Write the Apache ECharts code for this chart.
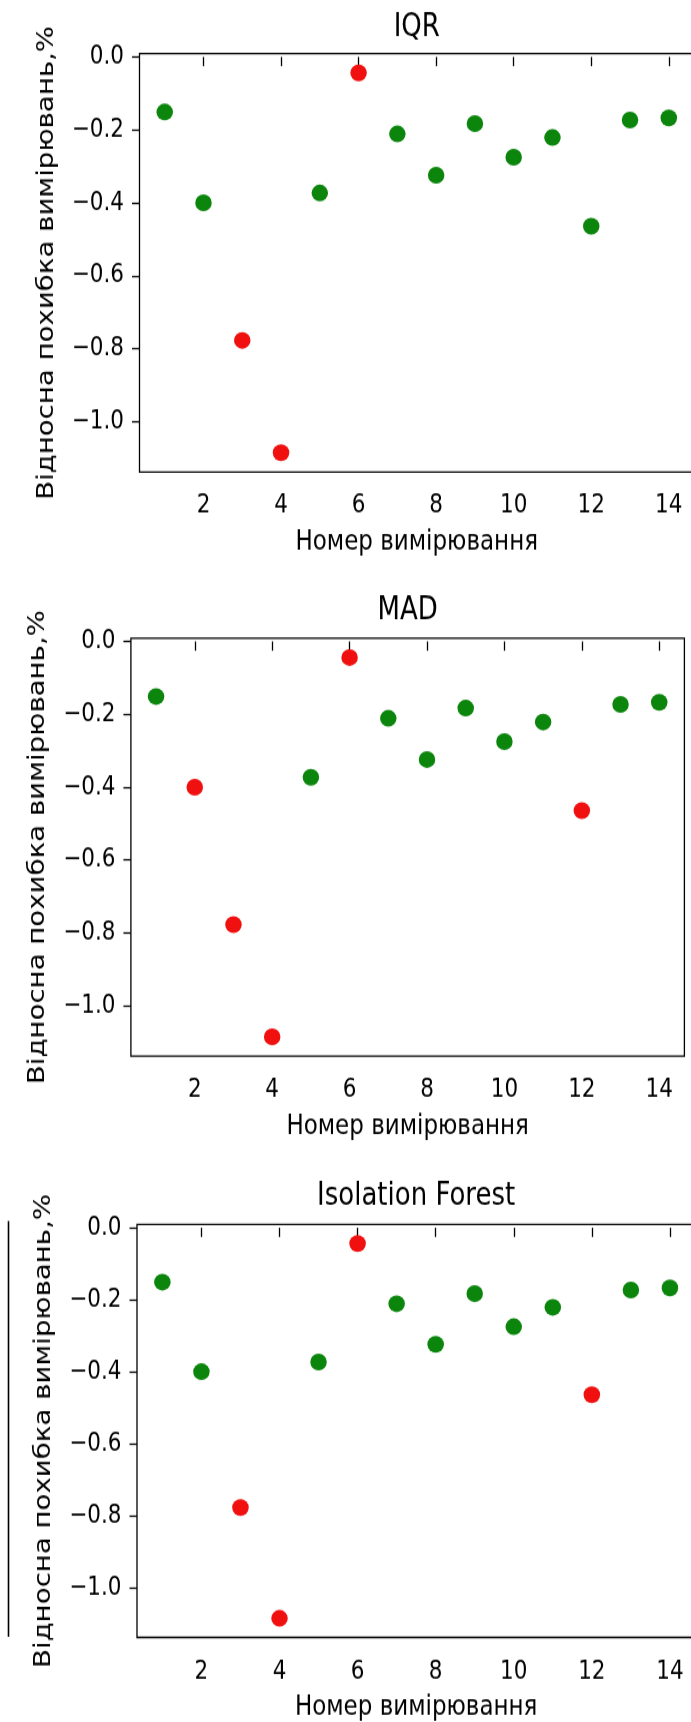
<!DOCTYPE html>
<html>
<head>
<meta charset="utf-8">
<script src="https://cdn.jsdelivr.net/npm/echarts@6/dist/echarts.min.js"></script>
<style>
html,body{margin:0;padding:0;background:#fff;}
#wrap{width:691px;height:1722px;overflow:hidden;position:relative;}
#chart{width:691px;height:1435px;transform:scaleY(1.2);transform-origin:0 0;position:absolute;left:0;top:0;}
</style>
</head>
<body>
<div id="wrap"><div id="chart"></div></div>
<script>
// Measurement numbers (x) and relative errors (y), same for all three methods
const measurementNo = [1, 2, 3, 4, 5, 6, 7, 8, 9, 10, 11, 12, 13, 14];
const relError = [-0.151, -0.400, -0.777, -1.085, -0.373, -0.044, -0.211, -0.324, -0.183, -0.275, -0.221, -0.464, -0.173, -0.167];
// Outliers flagged by each method (measurement numbers)
const iqrOutliers = [3, 4, 6];
const madOutliers = [2, 3, 4, 6, 12];
const isoForestOutliers = [3, 4, 6, 12];
const panelTitles = ['IQR', 'MAD', 'Isolation Forest'];
const xTicks = [2, 4, 6, 8, 10, 12, 14];
const yTicks = [0, -0.2, -0.4, -0.6, -0.8, -1.0];
const xLabel = 'Номер вимірювання';
const yLabel = 'Відносна похибка вимірювань,%';

const FONT = 'DejaVu Sans';
const GREEN = '#0b850b';
const RED = '#f01010';

const outlierSets = [iqrOutliers, madOutliers, isoForestOutliers];
const grids = [
  {left: 139.5, top: 44.7, width: 554.5, height: 348.7},
  {left: 130.9, top: 531.8, width: 553.5, height: 348.3},
  {left: 137.0, top: 1020.4, width: 558.3, height: 344.1}
];
const titleTops = [10.0, 496.4, 984.2];

const option = {
  backgroundColor: '#fff',
  animation: false,
  title: [],
  grid: [],
  xAxis: [],
  yAxis: [],
  series: [],
  graphic: [{
    type: 'line',
    shape: {x1: 8.5, y1: 1017.5, x2: 8.5, y2: 1364},
    style: {stroke: '#000', lineWidth: 1.6}
  }]
};

grids.forEach((g, i) => {
  option.grid.push(Object.assign({
    show: true, borderColor: '#000', borderWidth: 1.3,
    backgroundColor: 'transparent', containLabel: false, outerBoundsMode: 'none'
  }, g));
  option.title.push({
    text: panelTitles[i],
    left: g.left + g.width / 2,
    top: titleTops[i],
    textAlign: 'center',
    padding: 0,
    textStyle: {fontFamily: FONT, fontSize: 26, fontWeight: 'normal', color: '#000'}
  });
  option.xAxis.push({
    gridIndex: i, type: 'value', min: 0.35, max: 14.65,
    splitLine: {show: false},
    axisLine: {show: false},
    axisTick: {show: true, length: 7.7, customValues: xTicks, lineStyle: {color: '#000', width: 1.3}},
    axisLabel: {customValues: xTicks, margin: 17.5, fontFamily: FONT, fontSize: 21.5, color: '#000',
      formatter: v => String(v)},
    name: xLabel, nameLocation: 'middle', nameGap: 47.5,
    nameTextStyle: {fontFamily: FONT, fontSize: 23, color: '#000'}
  });
  option.yAxis.push({
    gridIndex: i, type: 'value', min: -1.138, max: 0.009,
    splitLine: {show: false},
    axisLine: {show: false},
    axisTick: {show: true, length: 7.5, customValues: yTicks, lineStyle: {color: '#000', width: 1.3}},
    axisLabel: {customValues: yTicks, margin: 15.5, fontFamily: FONT, fontSize: 21.5, color: '#000',
      formatter: v => v.toFixed(1).replace('-', '\u2212')},
    name: yLabel, nameLocation: 'middle', nameGap: 81, nameRotate: 90,
    nameTextStyle: {fontFamily: FONT, fontSize: 23, color: '#000'}
  });
  const outl = outlierSets[i];
  const normalData = [], outData = [];
  measurementNo.forEach((m, k) => {
    (outl.includes(m) ? outData : normalData).push([m, relError[k]]);
  });
  option.series.push({
    type: 'scatter', xAxisIndex: i, yAxisIndex: i, data: normalData,
    symbol: 'circle', symbolSize: [16.5, 14], itemStyle: {color: GREEN, opacity: 1}
  });
  option.series.push({
    type: 'scatter', xAxisIndex: i, yAxisIndex: i, data: outData,
    symbol: 'circle', symbolSize: [16.5, 14], itemStyle: {color: RED, opacity: 1}
  });
});

const chart = echarts.init(document.getElementById('chart'), null, {renderer: 'canvas'});
chart.setOption(option);
</script>
</body>
</html>
